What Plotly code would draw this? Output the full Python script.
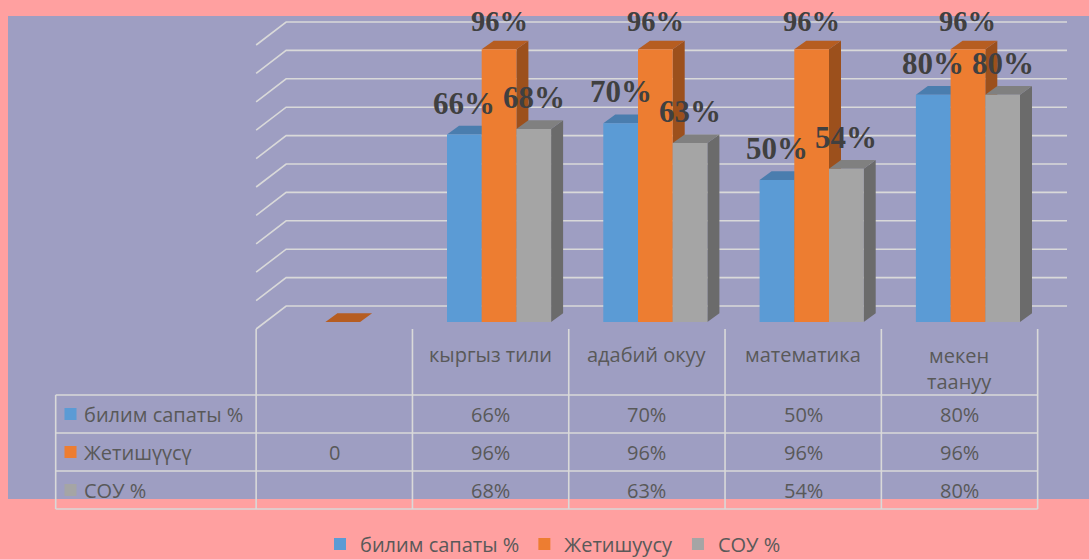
import plotly.graph_objects as go

# ---------------- data ----------------
categories = ["", "кыргыз тили", "адабий окуу", "математика", "мекен таануу"]
series_names = ["билим сапаты %", "Жетишүүсү", "СОУ %"]
legend_names = ["билим сапаты %", "Жетишуусу", "СОУ %"]
bilim_sapaty = [None, 66, 70, 50, 80]
jetishuusu = [0, 96, 96, 96, 96]
sou = [None, 68, 63, 54, 80]
y_ticks = [0, 10, 20, 30, 40, 50, 60, 70, 80, 90, 100]

series_values = [bilim_sapaty, jetishuusu, sou]
front_colors = ["#5B9BD5", "#ED7D31", "#A5A5A5"]
top_colors = ["#4A7DAE", "#B65D21", "#808080"]
side_colors = ["#3F6E99", "#9C501C", "#6B6B6B"]

# ---------------- geometry (pixels) ----------------
W, H = 1089, 559
CAT0_PX = 334.3          # pixel x of category index 0 (table column centre)
PX_PER_CAT = 156.3
ZERO_PX = 322.0          # pixel y of value 0 at bar front
PX_PER_PCT = 2.84
DEPTH_DX, DEPTH_DY = 12.0, 8.7      # bar depth in pixels
BAR_W = 34.7 / PX_PER_CAT
OFFSETS = [(-43.6) / PX_PER_CAT, (-43.6 + 34.7) / PX_PER_CAT, (-43.6 + 69.4) / PX_PER_CAT]

dxu = DEPTH_DX / PX_PER_CAT
dyu = DEPTH_DY / PX_PER_PCT

def pxx(p):
    return p / W

def pxy(p):
    return 1 - p / H

GRID_COLOR = "#D9D9D9"
TEXT_COLOR = "#595959"
FONT = "Open Sans"
PINK = "#FFA0A0"

fig = go.Figure()

xs = list(range(len(categories)))
for i in range(3):
    fig.add_trace(go.Bar(
        x=xs, y=series_values[i], name=legend_names[i],
        width=BAR_W, offset=OFFSETS[i],
        marker=dict(color=front_colors[i], line=dict(width=0)),
        hoverinfo="skip",
    ))

shapes = []
# plot-area background
shapes.append(dict(type="rect", xref="paper", yref="paper", layer="below",
                   x0=pxx(8), x1=1, y0=pxy(499), y1=pxy(16),
                   fillcolor="#9E9EC2", line=dict(width=0)))

# back wall gridlines with floor diagonal
back_dx = 30 / PX_PER_CAT
back_dy = 16 / PX_PER_PCT
front_dy = 7 / PX_PER_PCT
x_end = (1067 - CAT0_PX) / PX_PER_CAT
for t in y_ticks:
    path = (f"M {-0.5},{t - front_dy} L {-0.5 + back_dx},{t + back_dy} "
            f"L {x_end},{t + back_dy}")
    shapes.append(dict(type="path", xref="x", yref="y", layer="below", path=path,
                       line=dict(color=GRID_COLOR, width=1.6)))

# 3D faces: sides first, then tops
for kind in ("side", "top"):
    for j in xs:
        for i in range(3):
            v = series_values[i][j]
            if v is None:
                continue
            L = j + OFFSETS[i]
            R = L + BAR_W
            if kind == "side":
                path = f"M {R},0 L {R},{v} L {R + dxu},{v + dyu} L {R + dxu},{dyu} Z"
                col = side_colors[i]
            else:
                path = f"M {L},{v} L {R},{v} L {R + dxu},{v + dyu} L {L + dxu},{v + dyu} Z"
                col = top_colors[i]
            shapes.append(dict(type="path", xref="x", yref="y", layer="below", path=path,
                               fillcolor=col, line=dict(width=0)))

# data table lines
row_lines = [395, 433, 471, 509]
table_left = 55.7
x_right_data = len(categories) - 0.5
for ry in row_lines:
    shapes.append(dict(type="line", xref="paper", yref="paper", layer="below",
                       x0=pxx(table_left), x1=pxx(CAT0_PX + x_right_data * PX_PER_CAT),
                       y0=pxy(ry), y1=pxy(ry), line=dict(color=GRID_COLOR, width=1.6)))
for k in range(len(categories) + 1):
    xv = k - 0.5
    shapes.append(dict(type="line", xref="x", yref="paper", layer="below",
                       x0=xv, x1=xv, y0=pxy(329), y1=pxy(509),
                       line=dict(color=GRID_COLOR, width=1.6)))
shapes.append(dict(type="line", xref="paper", yref="paper", layer="below",
                   x0=pxx(table_left), x1=pxx(table_left), y0=pxy(395), y1=pxy(509),
                   line=dict(color=GRID_COLOR, width=1.6)))

annotations = []
row_centers = [414, 452, 490]
for i in range(3):
    # legend key squares in the table
    shapes.append(dict(type="rect", xref="paper", yref="paper", layer="below",
                       x0=pxx(64.5), x1=pxx(76.5),
                       y0=pxy(row_centers[i] + 6), y1=pxy(row_centers[i] - 6),
                       fillcolor=front_colors[i], line=dict(width=0)))
    annotations.append(dict(xref="paper", yref="paper", x=pxx(82), y=pxy(row_centers[i]),
                            text=series_names[i], showarrow=False,
                            xanchor="left", yanchor="middle",
                            font=dict(family=FONT, size=20, color=TEXT_COLOR)))
    for j in xs:
        v = series_values[i][j]
        if v is None:
            continue
        txt = "0" if v == 0 else f"{v}%"
        annotations.append(dict(xref="x", yref="paper", x=j, y=pxy(row_centers[i]),
                                text=txt, showarrow=False, xanchor="center", yanchor="middle",
                                font=dict(family=FONT, size=20, color=TEXT_COLOR)))

# category headers
for j, c in enumerate(categories):
    if not c:
        continue
    if len(c) > 11:
        txt = c.replace(" ", "<br>")
        yc = 368
    else:
        txt = c
        yc = 354
    annotations.append(dict(xref="x", yref="paper", x=j, y=pxy(yc), text=txt,
                            showarrow=False, xanchor="center", yanchor="middle",
                            font=dict(family=FONT, size=20, color=TEXT_COLOR)))

# data labels
label_sizes = [31, 28.5, 31]
label_shift = [11.8, 10.2, 11.8]
for i in range(3):
    for j in xs:
        v = series_values[i][j]
        if not v:
            continue
        xc = j + OFFSETS[i] + BAR_W / 2
        annotations.append(dict(xref="x", yref="y", x=xc, y=v, text=f"<b>{v}%</b>",
                                showarrow=False, xanchor="center", yanchor="bottom",
                                yshift=label_shift[i],
                                font=dict(family="Liberation Serif", size=label_sizes[i],
                                          color="#404040")))

fig.update_layout(
    width=W, height=H, autosize=False,
    margin=dict(l=0, r=0, t=0, b=0, pad=0, autoexpand=False),
    paper_bgcolor=PINK,
    plot_bgcolor="rgba(0,0,0,0)",
    barmode="overlay",
    shapes=shapes,
    annotations=annotations,
    xaxis=dict(range=[-CAT0_PX / PX_PER_CAT, (W - CAT0_PX) / PX_PER_CAT],
               visible=False, fixedrange=True),
    yaxis=dict(range=[(ZERO_PX - H) / PX_PER_PCT, ZERO_PX / PX_PER_PCT],
               visible=False, fixedrange=True),
    showlegend=True,
    legend=dict(orientation="h", x=pxx(553), xanchor="center",
                y=pxy(544), yanchor="middle",
                bgcolor="rgba(0,0,0,0)",
                font=dict(family=FONT, size=20, color=TEXT_COLOR)),
)

fig.write_html(
    "out.html",
    config={"displayModeBar": False},
    post_script=(f"document.body.style.margin='0';"
                 f"document.body.style.background='{PINK}';"
                 f"document.body.style.overflow='hidden';"),
)
